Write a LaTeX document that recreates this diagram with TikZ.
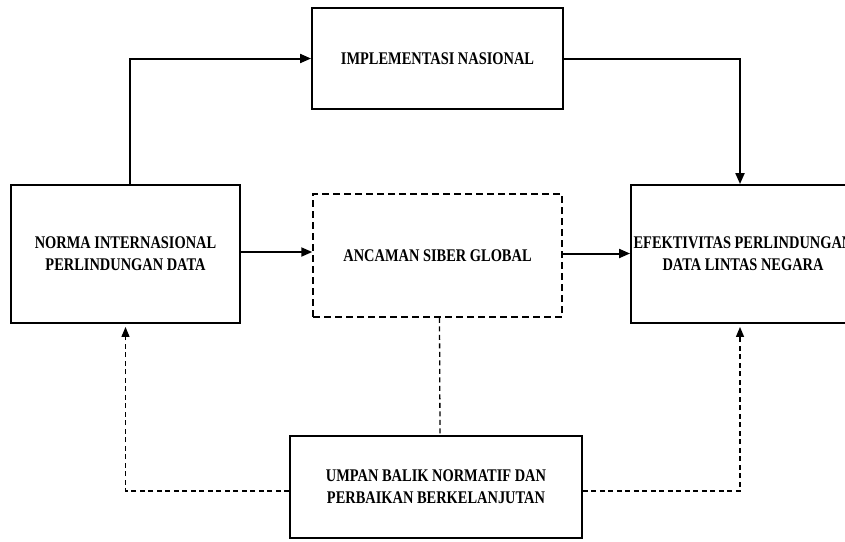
\documentclass[tikz,border=0pt]{standalone}
\usepackage{fontspec}
\setmainfont{Liberation Serif}[FakeStretch=0.81]
\usetikzlibrary{arrows.meta, positioning, calc}
\tikzset{
  blok/.style   = {draw=black, line width=1.9pt, fill=white, align=center,
                   font=\bfseries\fontsize{17.8}{22}\selectfont, inner sep=2pt},
  dblok/.style  = {blok, line width=1.5pt, dash pattern=on 7pt off 4pt},
  panah/.style  = {-{Triangle[length=11pt, width=9pt]}, line width=2pt},
  balik/.style  = {-{Triangle[length=10pt, width=8pt]}, line width=1.3pt,
                   dash pattern=on 5pt off 3.5pt},
  garis/.style  = {line width=1.3pt, dash pattern=on 5pt off 3.5pt},
}
\begin{document}
\begin{tikzpicture}[x=1pt, y=-1pt]
  \useasboundingbox (0,0) rectangle (845,541);
  % kotak utama
  \node[blok, minimum width=251pt, minimum height=101pt] (impl) at (437.5,58.5)
    {IMPLEMENTASI NASIONAL};
  \node[blok, minimum width=229pt, minimum height=138pt] (norma) at (125.5,254)
    {NORMA INTERNASIONAL\\PERLINDUNGAN DATA};
  \node[dblok, minimum width=249pt, minimum height=123pt] (ancaman) at (437.5,255.5)
    {ANCAMAN SIBER GLOBAL};
  \node[blok, minimum width=224pt, minimum height=138pt] (efek) at (743,254)
    {EFEKTIVITAS PERLINDUNGAN\\DATA LINTAS NEGARA};
  \node[blok, minimum width=292pt, minimum height=102pt] (umpan) at (436,487)
    {UMPAN BALIK NORMATIF DAN\\PERBAIKAN BERKELANJUTAN};
  % alur utama
  \coordinate (kiri) at ([yshift=2pt]norma.east);
  \coordinate (kanan) at ([yshift=2pt]ancaman.east);
  \draw[panah] ([xshift=4pt]norma.north) |- (impl.west);
  \draw[panah] (impl.east) -| ([xshift=-3pt]efek.north);
  \draw[panah] (kiri) -- (kiri -| ancaman.west);
  \draw[panah] (kanan) -- (kanan -| efek.west);
  % umpan balik
  \draw[garis] ([xshift=2pt]ancaman.south) -- ([xshift=4pt]umpan.north);
  \draw[balik, shorten >=3pt] ([yshift=-4pt]umpan.west) -| (norma.south);
  \draw[balik, shorten >=3pt] ([yshift=-4pt]umpan.east) -| ([xshift=-3pt]efek.south);
\end{tikzpicture}
\end{document}
